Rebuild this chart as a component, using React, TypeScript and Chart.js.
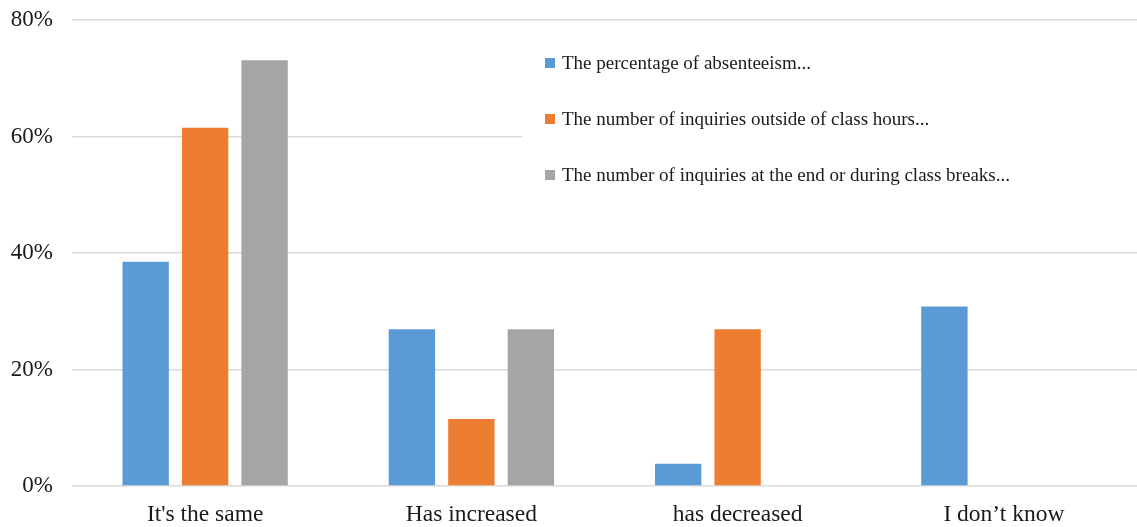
import React, { useEffect, useRef } from "react";
import { Chart, registerables } from "chart.js";

Chart.register(...registerables);

const categories = ["It's the same", "Has increased", "has decreased", "I don\u2019t know"];
const seriesNames = [
  "The percentage of absenteeism...",
  "The number of inquiries outside of class hours...",
  "The number of inquiries at the end or during class breaks...",
];
const absenteeism = [38.5, 26.9, 3.8, 30.8];
const outsideHours = [61.5, 11.5, 26.9, 0];
const endOrBreaks = [73.1, 26.9, 0, 0];
const colors = ["#5B9BD5", "#ED7D31", "#A5A5A5"];
const yTicks = [0, 20, 40, 60, 80];

const FONT = "'Liberation Serif', 'Times New Roman', serif";

const legendPlugin = {
  id: "insideLegend",
  afterDatasetsDraw(chart: any) {
    const { ctx, chartArea } = chart;
    ctx.save();
    const boxLeft = 522;
    ctx.fillStyle = "#ffffff";
    ctx.fillRect(boxLeft, 36, chartArea.right - boxLeft, 172);
    ctx.font = `19px ${FONT}`;
    ctx.textBaseline = "middle";
    chart.data.datasets.forEach((ds: any, i: number) => {
      const cy = 63 + i * 56;
      ctx.fillStyle = ds.backgroundColor;
      ctx.fillRect(545, cy - 5, 10, 10);
      ctx.fillStyle = "#1a1a1a";
      ctx.fillText(ds.label, 562, cy + 1);
    });
    ctx.restore();
  },
};

export default function App() {
  const ref = useRef<HTMLCanvasElement>(null);
  useEffect(() => {
    document.body.style.margin = "0";
    const chart = new Chart(ref.current!, {
      type: "bar",
      data: {
        labels: categories,
        datasets: [absenteeism, outsideHours, endOrBreaks].map((d, i) => ({
          label: seriesNames[i],
          data: d,
          backgroundColor: colors[i],
          borderWidth: 0,
          categoryPercentage: 0.67,
          barPercentage: 0.78,
        })),
      },
      options: {
        responsive: false,
        animation: false,
        layout: { padding: { top: 20, right: 0, left: 0, bottom: 0 } },
        plugins: {
          legend: { display: false },
          tooltip: { enabled: false },
        },
        scales: {
          x: {
            grid: { display: false },
            border: { display: false },
            ticks: { color: "#1a1a1a", font: { family: FONT, size: 23.5 }, padding: 7 },
            afterFit: (axis: any) => {
              axis.height = 41;
              axis.paddingLeft = 0;
              axis.paddingRight = 0;
            },
          },
          y: {
            min: 0,
            max: 80,
            afterBuildTicks: (axis: any) => {
              axis.ticks = yTicks.map((v) => ({ value: v }));
            },
            afterFit: (axis: any) => {
              axis.width = 72;
              axis.paddingTop = 0;
              axis.paddingBottom = 0;
            },
            grid: { color: "#D9D9D9", lineWidth: 1.5, drawTicks: false },
            border: { display: false },
            ticks: {
              color: "#1a1a1a",
              font: { family: FONT, size: 23 },
              padding: 19,
              callback: (v: any) => `${v}%`,
            },
          },
        },
      },
      plugins: [legendPlugin],
    });
    return () => chart.destroy();
  }, []);
  return (
    <div style={{ width: 1137, height: 527 }}>
      <canvas ref={ref} width={1137} height={527} />
    </div>
  );
}
